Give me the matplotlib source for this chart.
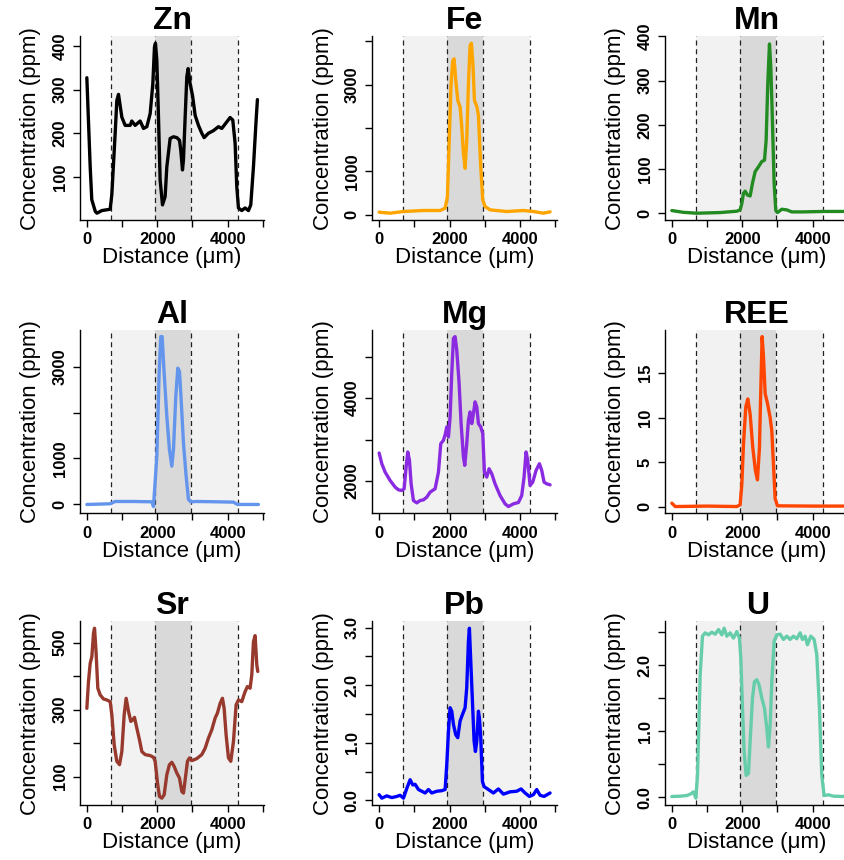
"""
Line-scan concentration profiles across the grain (3x3 panel figure).
"""

import matplotlib.pyplot as plt

plt.rcParams['font.family'] = ['Liberation Sans', 'DejaVu Sans']

# ---- data: distance (um) and concentration (ppm) for each element ----
zn_dist = [0, 95, 140, 240, 285, 426, 663, 710, 805, 852, 900, 994, 1089, 1231, 1278,
           1373, 1515, 1610, 1705, 1800, 1875, 1922, 1950, 1989, 2036, 2083, 2150, 2225,
           2273, 2367, 2462, 2557, 2633, 2670, 2718, 2746, 2794, 2841, 2879, 2936, 3002,
           3078, 3172, 3267, 3333, 3456, 3598, 3740, 3835, 3977, 4072, 4148, 4214, 4261,
           4309, 4403, 4498, 4593, 4659, 4735, 4811, 4848]
zn_conc = [327, 123, 48, 21, 17, 23, 26, 60, 200, 275, 289, 237, 218, 218, 228,
           218, 228, 211, 215, 245, 313, 397, 406, 367, 237, 93, 36, 55,
           123, 188, 192, 190, 184, 161, 116, 139, 237, 329, 348, 313, 287,
           241, 218, 200, 190, 200, 206, 215, 211, 226, 236, 230, 177, 78,
           29, 23, 29, 23, 36, 123, 230, 277]

fe_dist = [0, 312, 690, 1259, 1733, 1875, 1941, 1998, 2045, 2093, 2131, 2178, 2235, 2301,
           2348, 2396, 2443, 2490, 2538, 2585, 2623, 2670, 2708, 2775, 2822, 2888, 2945,
           3011, 3153, 3627, 4100, 4384, 4669, 4858]
fe_conc = [61, 38, 77, 100, 100, 153, 420, 1875, 3022, 3558, 3596, 3099, 2640, 2487,
           2028, 1415, 1071, 1722, 3022, 3902, 3956, 3405, 2640, 2502, 2295, 1109, 344,
           191, 115, 77, 100, 77, 38, 69]

mn_dist = [0, 331, 710, 1373, 1847, 1941, 1989, 2036, 2083, 2150, 2225, 2292, 2367, 2462,
           2557, 2633, 2680, 2727, 2775, 2812, 2850, 2907, 2955, 3002, 3125, 3267, 3409,
           3741, 4309, 4877]
mn_conc = [6, 2, 0, 1.5, 4.5, 7.5, 22, 45, 50, 41, 39, 68, 94, 105,
           117, 120, 165, 293, 383, 331, 233, 68, 6, 1.5, 9, 7.5, 3,
           3, 4, 4]

al_dist = [0, 663, 805, 1326, 1847, 1894, 1989, 2055, 2102, 2140, 2197, 2273, 2348, 2415,
           2462, 2528, 2585, 2633, 2680, 2746, 2822, 2888, 2955, 3125, 3693, 4167, 4280,
           4356, 4877]
al_conc = [0, 15, 65, 65, 58, -45, 1048, 2856, 3651, 3651, 2856, 1916, 1193, 832,
           1193, 2350, 2965, 2892, 2278, 1338, 615, 108, 58, 65, 58, 51, 0,
           0, 0]

mg_dist = [0, 76, 170, 312, 455, 549, 644, 710, 767, 814, 862, 909, 975, 1070, 1165,
           1259, 1354, 1449, 1591, 1686, 1752, 1828, 1884, 1922, 1970, 2017, 2064, 2112,
           2159, 2206, 2273, 2330, 2396, 2434, 2490, 2538, 2585, 2633, 2680, 2727, 2775,
           2822, 2888, 2945, 2992, 3059, 3125, 3201, 3295, 3437, 3580, 3674, 3816, 3958,
           4053, 4119, 4176, 4223, 4290, 4366, 4460, 4555, 4621, 4688, 4763, 4858]
mg_conc = [2677, 2419, 2218, 2016, 1855, 1790, 1774, 1815, 2339, 2702, 2500, 1935, 1532,
           1476, 1532, 1548, 1613, 1734, 1815, 2218, 2903, 2984, 3145, 3306, 3065, 3548,
           4597, 5444, 5484, 5161, 4355, 3387, 2581, 2379, 2903, 3468, 3669, 3387, 3629,
           3911, 3790, 3387, 3306, 3145, 2218, 2097, 2298, 2177, 1935, 1653, 1452, 1387,
           1452, 1484, 1653, 2097, 2702, 2500, 1895, 1976, 2258, 2419, 2258, 1976, 1935,
           1911]

ree_dist = [0, 95, 1000, 1847, 1941, 1989, 2036, 2102, 2159, 2225, 2301, 2377, 2434, 2490,
            2528, 2566, 2604, 2652, 2718, 2794, 2841, 2888, 2936, 3002, 4000, 4877]
ree_conc = [0.38, 0.0, 0.05, 0.0, 0.2, 2.5, 7.0, 11.2, 12.1, 10.4, 6.6, 4.0, 3.0, 6.6,
            13.1, 19.1, 16.9, 12.7, 11.6, 10.0, 8.5, 4.7, 0.9, 0.08, 0.05, 0.05]

sr_dist = [0, 47, 95, 142, 189, 218, 256, 312, 379, 473, 568, 663, 710, 777, 852, 928,
           994, 1061, 1117, 1184, 1250, 1307, 1354, 1420, 1496, 1563, 1657, 1799, 1894,
           1941, 2008, 2064, 2131, 2197, 2273, 2348, 2415, 2481, 2557, 2633, 2699, 2746,
           2794, 2860, 2917, 2983, 3125, 3267, 3362, 3456, 3551, 3646, 3712, 3788, 3854,
           3902, 3958, 4025, 4091, 4167, 4242, 4309, 4403, 4498, 4564, 4640, 4688, 4735,
           4782, 4830, 4858]
sr_conc = [304, 384, 438, 458, 528, 543, 483, 364, 344, 332, 329, 324, 285, 195, 146, 136,
           175, 285, 334, 295, 265, 270, 277, 245, 210, 175, 166, 163, 158,
           146, 81, 41, 36, 46, 106, 136, 143, 131, 111, 96, 56, 51,
           91, 146, 156, 148, 154, 166, 185, 215, 240, 275, 290, 319, 334,
           304, 225, 156, 146, 205, 314, 329, 324, 354, 369, 364, 404, 503,
           521, 434, 414]

pb_dist = [0, 76, 218, 360, 502, 597, 691, 786, 881, 956, 1023, 1117, 1212, 1307, 1402,
           1496, 1638, 1780, 1875, 1922, 1970, 2017, 2064, 2112, 2178, 2235, 2301, 2367,
           2443, 2490, 2538, 2566, 2604, 2652, 2699, 2737, 2775, 2822, 2850, 2888, 2936,
           2983, 3106, 3248, 3390, 3532, 3722, 3911, 4034, 4148, 4271, 4384, 4479, 4574,
           4688, 4858]
pb_conc = [0.10, 0.04, 0.08, 0.05, 0.07, 0.09, 0.04, 0.21, 0.36, 0.27, 0.28, 0.19, 0.16,
           0.13, 0.19, 0.13, 0.16, 0.17, 0.19, 0.62, 1.20, 1.61, 1.55, 1.32, 1.14, 1.09,
           1.38, 1.49, 1.61, 1.96, 2.77, 2.99, 2.42, 1.72, 1.03, 0.85, 1.03, 1.55, 1.43,
           1.09, 0.33, 0.24, 0.19, 0.13, 0.20, 0.11, 0.15, 0.16, 0.20, 0.13, 0.07, 0.10,
           0.19, 0.09, 0.07, 0.13]

u_dist = [0, 237, 426, 540, 616, 682, 729, 805, 871, 947, 1042, 1136, 1231, 1326, 1420,
          1487, 1563, 1657, 1752, 1847, 1922, 1960, 2008, 2055, 2112, 2178, 2225, 2292,
          2348, 2415, 2481, 2557, 2633, 2699, 2746, 2794, 2841, 2907, 2983, 3078, 3172,
          3267, 3362, 3456, 3551, 3646, 3712, 3788, 3854, 3949, 4044, 4119, 4195, 4261,
          4328, 4451, 4593, 4877]
u_conc = [0.01, 0.015, 0.025, 0.05, 0.08, -0.015, 0.33, 1.85, 2.44, 2.49, 2.46, 2.50, 2.47,
          2.54, 2.46, 2.56, 2.44, 2.49, 2.41, 2.51, 2.41, 2.11, 1.35, 0.69, 0.33, 0.36,
          0.84, 1.50, 1.75, 1.78, 1.70, 1.50, 1.35, 1.04, 0.76, 1.09, 1.75, 2.36, 2.46,
          2.47, 2.39, 2.44, 2.39, 2.44, 2.40, 2.49, 2.39, 2.44, 2.31, 2.44, 2.39, 2.16,
          1.35, 0.33, 0.025, 0.036, 0.015, 0.01]

elements = ['Zn', 'Fe', 'Mn', 'Al', 'Mg', 'REE', 'Sr', 'Pb', 'U']
colors = ['black', '#FFA500', '#228B22', '#6495ED', '#8A2BE2', '#FF4500',
          '#98392E', '#0000FF', '#66CDAA']
distances = [zn_dist, fe_dist, mn_dist, al_dist, mg_dist, ree_dist, sr_dist, pb_dist, u_dist]
concs = [zn_conc, fe_conc, mn_conc, al_conc, mg_conc, ree_conc, sr_conc, pb_conc, u_conc]

# y ticks and which of them carry a label
y_ticks = [[100, 200, 300, 400], [0, 1000, 2000, 3000, 4000], [0, 100, 200, 300, 400],
           [0, 1000, 2000, 3000], [2000, 3000, 4000, 5000], [0, 5, 10, 15],
           [100, 200, 300, 400, 500], [0, 0.5, 1.0, 1.5, 2.0, 2.5, 3.0],
           [0, 0.5, 1.0, 1.5, 2.0, 2.5]]
y_labels = [['100', '200', '300', '400'], ['0', '1000', '', '3000', ''],
            ['0', '100', '200', '300', '400'], ['0', '1000', '', '3000'],
            ['2000', '', '4000', ''], ['0', '5', '10', '15'],
            ['100', '', '300', '', '500'], ['0.0', '', '1.0', '', '2.0', '', '3.0'],
            ['0.0', '', '1.0', '', '2.0', '']]

# zone boundaries along the traverse (um)
rim_zone = (690, 4300)
core_zone = (1925, 2960)


def draw_panel(ax, dist, conc, color, name, yticks, ylabels):
    ax.axvspan(rim_zone[0], rim_zone[1], color='#F2F2F2', lw=0, zorder=0)
    ax.axvspan(core_zone[0], core_zone[1], color='#D9D9D9', lw=0, zorder=0)
    for xv in (rim_zone[0], core_zone[0], core_zone[1], rim_zone[1]):
        ax.axvline(xv, color='#222222', lw=0.9, linestyle=(0, (4, 3)), zorder=1)
    ax.plot(dist, conc, color=color, lw=2.4, zorder=2,
            solid_joinstyle='round', solid_capstyle='round')

    ax.margins(x=0.04, y=0.04)
    ax.set_xticks([0, 1000, 2000, 3000, 4000, 5000])
    ax.set_xticklabels(['0', '', '2000', '', '4000', ''])
    ax.set_yticks(yticks)
    ax.set_yticklabels(ylabels, rotation=90, va='center')
    ax.set_xlim(-194, 5044)

    for side in ('top', 'right'):
        ax.spines[side].set_visible(False)
    for side in ('left', 'bottom'):
        ax.spines[side].set_linewidth(1.0)
    ax.tick_params(direction='out', length=5, width=1.0, labelsize=12, pad=4)
    for lab in ax.get_xticklabels() + ax.get_yticklabels():
        lab.set_fontweight('bold')

    ax.set_title(name, fontsize=23, fontweight='bold', pad=2)
    ax.set_xlabel('Distance (\u03bcm)', fontsize=16, labelpad=0)
    ax.set_ylabel('Concentration (ppm)', fontsize=16, labelpad=8)


fig = plt.figure(figsize=(8.45, 8.6), dpi=100)

lefts = [0.0947, 0.4406, 0.787]
bottoms = [0.7442, 0.4031, 0.0640]
width, height = 0.2181, 0.2134

for i in range(9):
    row, col = divmod(i, 3)
    ax = fig.add_axes([lefts[col], bottoms[row], width, height])
    draw_panel(ax, distances[i], concs[i], colors[i], elements[i], y_ticks[i], y_labels[i])

fig.savefig('out.png', dpi=100)
